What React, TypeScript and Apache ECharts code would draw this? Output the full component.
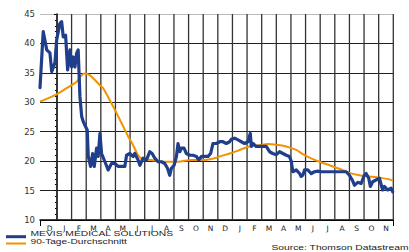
import React, { useEffect, useRef } from "react";
import * as echarts from "echarts";

// Month labels (Dec 2007 .. Nov 2009); x unit = months since start of Jan 2008
const monthLabels = ["D","J","F","M","A","M","J","J","A","S","O","N","D","J","F","M","A","M","J","J","A","S","O","N"];
const monthBoundaries = [0,1,2,3,4,5,6,7,8,9,10,11,12,13,14,15,16,17,18,19,20,21,22,23];

// MEVIS Medical Solutions share price (EUR)
const priceMonth = [-1.16,-0.94,-0.70,-0.48,-0.36,-0.14,-0.02,0.20,0.32,0.43,0.59,0.73,0.89,1.00,1.11,1.23,1.34,1.45,1.57,1.69,1.80,1.91,2.07,2.14,2.30,2.44,2.55,2.71,2.82,2.94,3.05,3.28,3.50,3.73,3.96,4.18,4.42,4.64,4.76,4.98,5.21,5.32,5.55,5.67,5.89,6.12,6.35,6.51,6.69,6.91,7.15,7.37,7.56,7.71,7.83,8.01,8.17,8.28,8.40,8.51,8.69,8.85,9.08,9.30,9.54,9.69,9.88,10.10,10.33,10.51,10.67,10.90,11.13,11.35,11.58,11.81,11.92,12.15,12.38,12.61,12.83,13.06,13.22,13.29,13.40,13.63,13.86,14.08,14.31,14.54,14.76,15.00,15.22,15.45,15.68,15.90,16.02,16.13,16.36,16.59,16.70,16.81,16.93,17.15,17.39,17.61,17.84,18.07,18.63,19.32,19.78,20.00,20.23,20.34,20.57,20.80,21.02,21.14,21.32,21.43,21.59,21.82,22.05,22.27,22.39,22.61,22.85,22.96];
const priceValue = [32.5,42.0,38.9,38.4,35.2,36.7,40.6,43.4,43.7,41.1,41.4,35.5,38.9,36.0,37.7,36.0,38.3,38.9,31.0,27.6,26.7,26.1,25.3,20.8,19.1,21.3,19.1,22.2,20.8,24.7,21.3,19.9,18.5,19.6,19.6,19.1,19.1,19.1,21.0,21.3,20.8,21.3,20.2,19.3,20.5,20.2,21.6,21.3,20.5,19.9,19.9,19.6,18.8,17.6,18.8,19.3,20.8,23.0,21.6,22.2,22.2,21.3,21.0,21.0,20.8,20.2,20.8,20.8,20.8,21.3,23.0,23.0,23.3,23.3,23.0,23.3,23.7,23.9,23.6,23.3,23.0,23.3,24.7,22.5,23.0,22.5,22.5,22.5,22.5,21.6,21.3,21.1,21.6,21.3,21.0,20.8,20.0,18.2,18.5,17.9,17.4,17.6,18.5,18.5,17.9,18.2,18.3,18.2,18.2,18.2,18.2,17.6,16.6,15.9,16.4,16.2,17.6,17.9,17.1,15.7,16.5,16.8,17.1,15.1,15.7,15.1,15.4,14.8];

// 90-day moving average
const avgMonth = [-1.16,-0.14,0.66,1.34,1.69,1.91,2.25,2.94,3.16,3.84,4.53,4.87,5.21,5.55,5.89,6.46,6.91,7.37,8.28,9.19,10.10,10.78,11.13,11.81,12.49,13.17,13.86,14.42,15.00,15.68,16.36,16.81,17.27,17.95,18.63,19.32,20.00,20.68,21.37,22.05,22.73,22.96];
const avgValue = [30.1,31.2,32.4,33.5,34.6,34.9,34.6,32.9,32.4,29.3,25.9,24.2,22.7,21.0,20.3,20.2,20.0,19.9,19.9,20.2,20.2,20.5,20.8,21.3,21.9,22.5,22.7,22.9,22.8,22.5,21.9,21.2,20.6,19.9,19.3,18.7,18.0,17.6,17.4,17.2,16.9,16.7];

const seriesNames = ["MEVIS MEDICAL SOLUTIONS", "90-Tage-Durchschnitt"];
const sourceText = "Source: Thomson Datastream";

const Y_MIN = 10;
const Y_MAX = 45;
const BLUE = "#1F3E8C";
const ORANGE = "#F39200";
const GRID_COLOR = "#333333";

export default function App() {
  const ref = useRef<HTMLDivElement>(null);
  useEffect(() => {
    if (!ref.current) return;
    const chart = echarts.init(ref.current, undefined, { renderer: "svg" });
    const xMin = priceMonth[0];
    const xMax = 23;
    const labelPos = monthLabels.map((_, i) => i - 0.5);
    const gridSeries = monthBoundaries.map((m) => ({
      type: "line",
      name: "grid-" + m,
      silent: true,
      z: 3,
      showSymbol: false,
      symbol: "none",
      data: [[m, Y_MIN], [m, Y_MAX]],
      lineStyle: { color: GRID_COLOR, width: 1.3 },
      emphasis: { disabled: true },
    }));
    chart.setOption({
      animation: false,
      backgroundColor: "#ffffff",
      grid: { left: 40, top: 14, right: 15.7, bottom: 32 },
      xAxis: {
        type: "value",
        min: xMin,
        max: xMax,
        axisLine: { show: true, onZero: false, lineStyle: { color: "#000", width: 1.5 } },
        axisTick: { show: true, customValues: [xMin, xMax], length: 6, lineStyle: { color: "#000" } },
        axisLabel: {
          show: true,
          customValues: labelPos,
          formatter: (v: number) => {
            const i = Math.round(v + 0.5);
            return monthLabels[i] ?? "";
          },
          fontFamily: "DejaVu Sans",
          fontSize: 7.5,
          color: "#222",
          margin: 4,
        },
        splitLine: { show: false },
      },
      yAxis: {
        type: "value",
        min: Y_MIN,
        max: Y_MAX,
        interval: 5,
        axisLine: { show: true, lineStyle: { color: "#000", width: 1.5 } },
        axisTick: { show: true, length: 3, lineStyle: { color: "#000" } },
        minorTick: { show: true, splitNumber: 5, length: 2, lineStyle: { color: "#000" } },
        axisLabel: { fontFamily: "DejaVu Sans", fontSize: 8.5, color: "#333", margin: 5 },
        splitLine: {
          show: true,
          lineStyle: {
            color: ["#222", "#222", "#222", "#222", "#222", "#222", "#222", "#bbbbbb"],
            width: 1.2,
          },
        },
      },
      series: [
        ...gridSeries,
        {
          type: "line",
          name: seriesNames[1],
          data: avgMonth.map((m, i) => [m, avgValue[i]]),
          showSymbol: false,
          smooth: 0.3,
          z: 5,
          lineStyle: { color: ORANGE, width: 2 },
        },
        {
          type: "line",
          name: seriesNames[0],
          data: priceMonth.map((m, i) => [m, priceValue[i]]),
          showSymbol: false,
          z: 6,
          lineStyle: { color: BLUE, width: 3.2, join: "round", cap: "round" },
        },
      ],
      graphic: [
        { type: "line", shape: { x1: 6, y1: 236.7, x2: 26, y2: 236.7 }, style: { stroke: BLUE, lineWidth: 3 } },
        { type: "line", shape: { x1: 6, y1: 243.5, x2: 26, y2: 243.5 }, style: { stroke: ORANGE, lineWidth: 2 } },
        {
          type: "text", x: 30.5, y: 233.2, scaleX: 1.47,
          style: { text: seriesNames[0], font: '7px "Liberation Sans"', fill: "#222", textVerticalAlign: "middle" },
        },
        {
          type: "text", x: 30.5, y: 241.8, scaleX: 1.45,
          style: { text: seriesNames[1], font: '7px "Liberation Sans"', fill: "#222", textVerticalAlign: "middle" },
        },
        {
          type: "text", x: 408.5, y: 247.8, scaleX: 1.47,
          style: { text: sourceText, font: '7px "Liberation Sans"', fill: "#222", textAlign: "right", textVerticalAlign: "middle" },
        },
      ],
    });
    return () => chart.dispose();
  }, []);
  return (
    <div
      ref={ref}
      style={{ position: "fixed", left: 0, top: 0, width: 409, height: 252, background: "#fff" }}
    />
  );
}
